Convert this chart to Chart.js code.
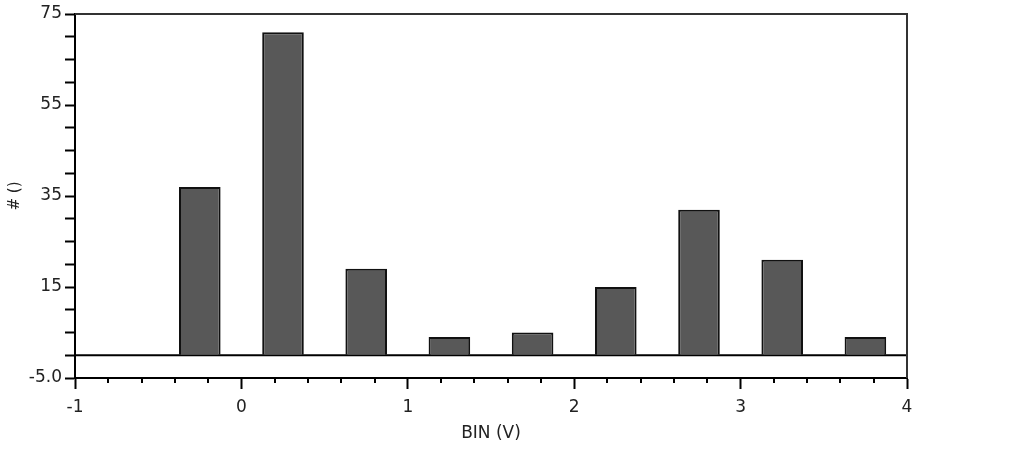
<!DOCTYPE html>
<html>
<head>
<meta charset="utf-8">
<script src="https://cdn.jsdelivr.net/npm/chart.js@4/dist/chart.umd.min.js"></script>
<style>
  html, body { margin: 0; padding: 0; background: #fff; }
  canvas { display: block; }
</style>
</head>
<body>
<canvas id="histChart" width="1013" height="455"></canvas>
<script>
// histogram data
const binCenters = [-0.25, 0.25, 0.75, 1.25, 1.75, 2.25, 2.75, 3.25, 3.75];
const binCounts  = [37, 71, 19, 4, 5, 15, 32, 21, 4];

const xRange = [-1, 4];
const xMinorStep = 0.2;
const yRange = [-5, 75];
const yLabelValues = [-5, 15, 35, 55, 75];
const yLabelText   = ['-5.0', '15', '35', '55', '75'];

const isInt = v => Math.abs(v - Math.round(v)) < 1e-6;
const tickFont = { family: 'DejaVu Sans', size: 17 };

// kleine ticks op de x-as en rand boven/rechts
const framePlugin = {
  id: 'frame',
  afterDraw(chart) {
    const { ctx, chartArea } = chart;
    const xs = chart.scales.x;
    ctx.save();
    ctx.strokeStyle = '#000';
    ctx.lineWidth = 2;
    const n = Math.round((xRange[1] - xRange[0]) / xMinorStep);
    for (let i = 0; i <= n; i++) {
      const v = xRange[0] + i * xMinorStep;
      if (isInt(v)) continue;
      const px = Math.round(xs.getPixelForValue(v));
      ctx.beginPath();
      ctx.moveTo(px, chartArea.bottom);
      ctx.lineTo(px, chartArea.bottom + 5);
      ctx.stroke();
    }
    ctx.strokeStyle = '#333';
    ctx.beginPath();
    ctx.moveTo(chartArea.left, chartArea.top);
    ctx.lineTo(chartArea.right, chartArea.top);
    ctx.lineTo(chartArea.right, chartArea.bottom);
    ctx.stroke();
    ctx.restore();
  }
};

new Chart(document.getElementById('histChart'), {
  type: 'bar',
  data: {
    datasets: [{
      type: 'bar',
      data: binCenters.map((c, i) => ({ x: c, y: binCounts[i] })),
      backgroundColor: '#585858',
      borderColor: '#111',
      borderWidth: 2,
      categoryPercentage: 1,
      barPercentage: 0.5,
      order: 1
    }, {
      type: 'line',
      data: xRange.map(x => ({ x: x, y: 0 })),
      borderColor: '#000',
      borderWidth: 2,
      pointRadius: 0,
      fill: false,
      order: 2
    }]
  },
  options: {
    responsive: false,
    animation: false,
    devicePixelRatio: 1,
    layout: { padding: { left: 0, right: 106, top: 14, bottom: 0 } },
    plugins: {
      legend: { display: false },
      tooltip: { enabled: false }
    },
    scales: {
      x: {
        type: 'linear',
        min: xRange[0],
        max: xRange[1],
        offset: false,
        afterFit: s => { s.height = 77; },
        border: { display: true, color: '#000', width: 2 },
        grid: {
          offset: false,
          drawOnChartArea: false,
          tickLength: 11,
          tickWidth: 2,
          tickColor: '#000'
        },
        ticks: {
          stepSize: 1,
          autoSkip: false,
          maxRotation: 0,
          padding: 8,
          color: '#222',
          font: tickFont
        },
        title: {
          display: true,
          text: 'BIN (V)',
          color: '#222',
          font: tickFont,
          padding: { top: 0, bottom: 11 }
        }
      },
      y: {
        min: yRange[0],
        max: yRange[1],
        afterFit: s => { s.width = 75; },
        border: { display: true, color: '#000', width: 2 },
        grid: {
          drawOnChartArea: false,
          tickLength: 10,
          tickWidth: 2,
          tickColor: '#000'
        },
        ticks: {
          stepSize: 5,
          autoSkip: false,
          padding: 3,
          color: '#222',
          font: tickFont,
          callback: v => {
            const i = yLabelValues.indexOf(v);
            return i >= 0 ? yLabelText[i] : '';
          }
        },
        title: {
          display: true,
          text: '# ()',
          color: '#222',
          font: { family: 'DejaVu Sans', size: 15 },
          padding: { top: 6, bottom: 0 }
        }
      }
    }
  },
  plugins: [framePlugin]
});
</script>
</body>
</html>
